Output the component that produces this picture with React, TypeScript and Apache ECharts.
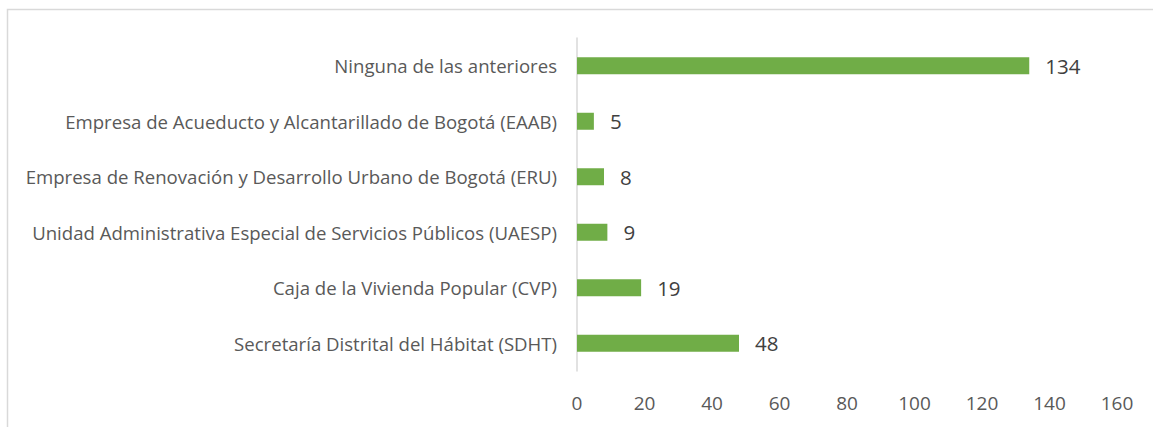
import React, { useEffect, useRef } from "react";
import * as echarts from "echarts";

const categories = [
  "Secretaría Distrital del Hábitat (SDHT)",
  "Caja de la Vivienda Popular (CVP)",
  "Unidad Administrativa Especial de Servicios Públicos (UAESP)",
  "Empresa de Renovación y Desarrollo Urbano de Bogotá (ERU)",
  "Empresa de Acueducto y Alcantarillado de Bogotá (EAAB)",
  "Ninguna de las anteriores",
];
const values = [48, 19, 9, 8, 5, 134];
const xMin = 0;
const xMax = 160;
const xInterval = 20;

export default function App() {
  const ref = useRef<HTMLDivElement>(null);
  useEffect(() => {
    if (!ref.current) return;
    const chart = echarts.init(ref.current, null, { renderer: "svg" });
    chart.setOption({
      animation: false,
      backgroundColor: "#ffffff",
      textStyle: { fontFamily: "Open Sans" },
      graphic: [
        {
          type: "rect",
          shape: { x: 7.5, y: 9.5, width: 1300, height: 600 },
          style: { fill: "none", stroke: "#d9d9d9", lineWidth: 1.5 },
          silent: true,
        },
      ],
      grid: { left: 577, right: 36, top: 38, bottom: 56, containLabel: false },
      xAxis: {
        type: "value",
        min: xMin,
        max: xMax,
        interval: xInterval,
        axisLine: { show: false },
        axisTick: { show: false },
        splitLine: { show: false },
        axisLabel: { color: "#595959", fontSize: 19, margin: 22, fontFamily: "Open Sans" },
      },
      yAxis: {
        type: "category",
        data: categories,
        axisLine: { show: true, lineStyle: { color: "#d9d9d9", width: 1.5 } },
        axisTick: { show: false },
        axisLabel: { color: "#595959", fontSize: 18.6, margin: 20, fontFamily: "Open Sans" },
      },
      series: [
        {
          type: "bar",
          data: values,
          barWidth: 17,
          itemStyle: { color: "#70ad47" },
          label: {
            show: true,
            position: "right",
            distance: 16,
            color: "#404040",
            fontSize: 20.5,
            fontFamily: "Open Sans",
          },
        },
      ],
    });
    return () => chart.dispose();
  }, []);
  return (
    <div
      ref={ref}
      style={{ position: "fixed", left: 0, top: 0, width: 1153, height: 427 }}
    />
  );
}
